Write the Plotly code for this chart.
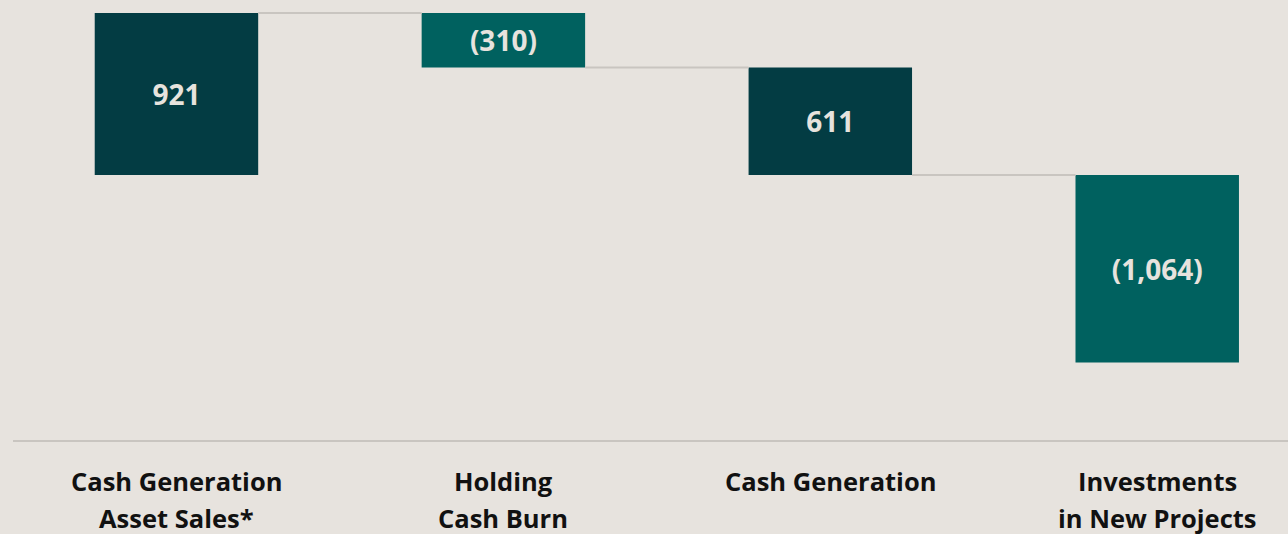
import plotly.graph_objects as go

categories = ["Cash Generation<br>Asset Sales*", "Holding<br>Cash Burn", "Cash Generation", "Investments<br>in New Projects"]
values = [921, -310, 611, -1064]
bases = [0, 921, 0, 0]
bar_colors = ["#033C43", "#00615F", "#033C43", "#00615F"]

BG = "#E7E3DE"
FONT = "Open Sans"

x = list(range(len(categories)))
labels = [f"({abs(v):,})" if v < 0 else f"{v:,}" for v in values]

fig = go.Figure()
fig.add_trace(go.Bar(
    x=x, y=values, base=bases, width=0.5,
    marker=dict(color=bar_colors, line=dict(width=0)),
    text=labels, textposition="inside", insidetextanchor="middle",
    textfont=dict(family=FONT, size=28, color="#E7E3DE", weight="bold"),
    textangle=0, hoverinfo="skip", showlegend=False,
))

# connectors at the shared edge of neighbouring bars
cx, cy = [], []
for i in range(len(values) - 1):
    e1 = {bases[i], bases[i] + values[i]}
    e2 = {bases[i + 1], bases[i + 1] + values[i + 1]}
    common = e1 & e2
    lvl = common.pop() if common else bases[i] + values[i]
    cx += [x[i] + 0.25, x[i + 1] - 0.25, None]
    cy += [lvl, lvl, None]
fig.add_trace(go.Scatter(x=cx, y=cy, mode="lines",
                         line=dict(color="#C9C5C0", width=2),
                         hoverinfo="skip", showlegend=False))

# category labels, line by line
for xi, cat in zip(x, categories):
    for j, line in enumerate(cat.split("<br>")):
        fig.add_annotation(x=xi, xref="x", y=-0.093 - j * 0.084, yref="paper",
                           text=line, showarrow=False, yanchor="middle",
                           font=dict(family=FONT, size=25.5, color="#111111", weight="bold"))

fig.update_layout(
    width=1288, height=534,
    paper_bgcolor=BG, plot_bgcolor=BG,
    margin=dict(l=13, r=0, t=0, b=94),
    bargap=0.5,
    xaxis=dict(range=[-0.5, 3.4], showticklabels=False, showgrid=False, zeroline=False,
               showline=True, linecolor="#C9C5C0", linewidth=2, ticks=""),
    yaxis=dict(range=[-1505, 995], visible=False, showgrid=False, zeroline=False),
    uniformtext=dict(mode=False),
)

fig.write_html("out.html", config={"displayModeBar": False},
               post_script="document.body.style.margin='0';document.body.style.overflow='hidden';")
